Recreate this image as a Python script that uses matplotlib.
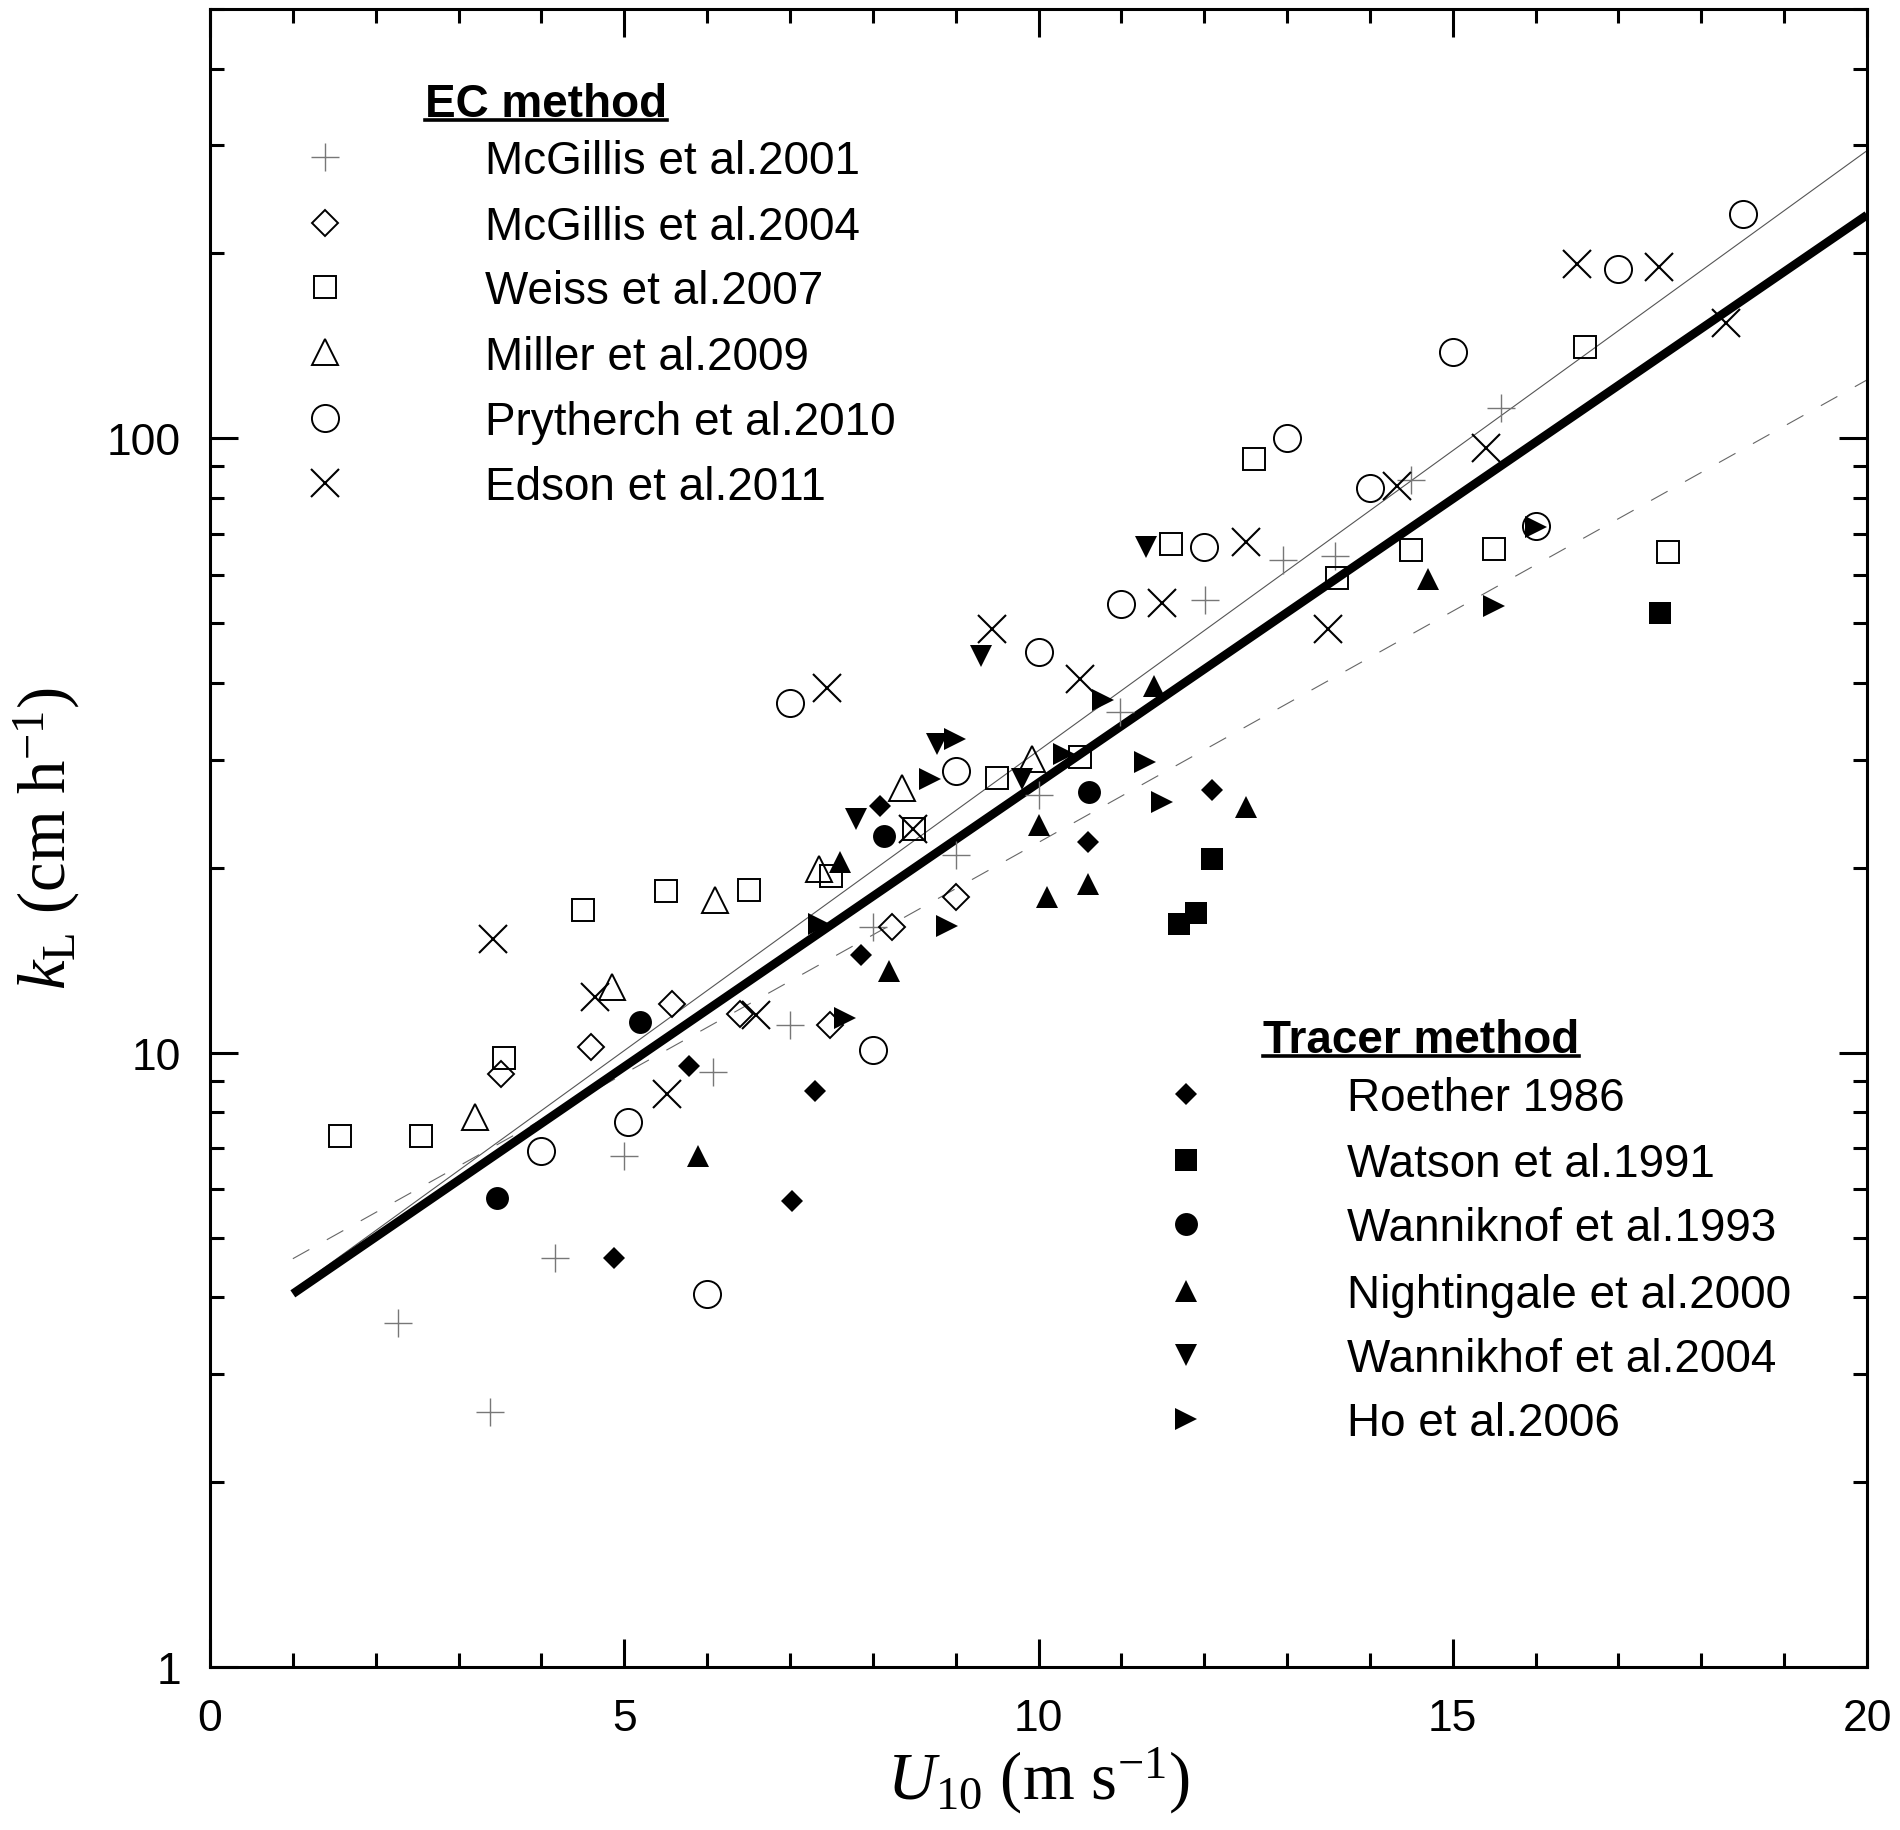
import matplotlib
matplotlib.use("Agg")
import matplotlib.pyplot as plt
from matplotlib.ticker import MultipleLocator, LogLocator, NullFormatter
from matplotlib.lines import Line2D

plt.rcParams['font.family'] = ['Liberation Sans', 'DejaVu Sans']
plt.rcParams['mathtext.fontset'] = 'custom'
plt.rcParams['mathtext.rm'] = 'Liberation Serif'
plt.rcParams['mathtext.it'] = 'Liberation Serif:italic'
plt.rcParams['mathtext.bf'] = 'Liberation Serif:bold'

# ---- EC method data (U10 in m/s, kL in cm/h) ----
mcgillis01_u = [2.27, 3.38, 4.16, 5.0, 6.07, 7.0, 8.0, 9.0, 10.0, 10.98, 12.01, 12.95, 13.58, 14.5, 15.58]
mcgillis01_k = [3.63, 2.6, 4.63, 6.79, 9.3, 11.1, 16.0, 21.0, 26.3, 35.8, 54.5, 63.4, 64.3, 85.6, 112]

mcgillis04_u = [3.51, 4.6, 5.58, 6.4, 7.48, 8.23, 9.0]
mcgillis04_k = [9.23, 10.2, 12.0, 11.56, 11.1, 16.0, 17.9]

weiss_u = [1.57, 2.55, 3.55, 4.5, 5.5, 6.5, 7.5, 8.5, 9.5, 10.5, 11.6, 12.6, 13.6, 14.5, 15.5, 16.6, 17.6]
weiss_k = [7.32, 7.32, 9.8, 17.1, 18.3, 18.4, 19.4, 23.1, 28.0, 30.3, 67.3, 92.5, 59.3, 65.8, 66.1, 141, 65.3]

miller_u = [3.2, 4.85, 6.1, 7.35, 8.35, 9.92]
miller_k = [7.86, 12.8, 17.7, 19.9, 27.0, 30.1]

prytherch_u = [4.0, 5.05, 6.0, 7.0, 8.0, 9.0, 10.0, 11.0, 12.0, 13.0, 14.0, 15.0, 16.0, 17.0, 18.5]
prytherch_k = [6.92, 7.71, 4.05, 37.1, 10.1, 28.7, 44.9, 53.7, 66.6, 100, 83.0, 138, 72.0, 189, 232]

edson_u = [3.42, 4.65, 5.52, 6.59, 7.45, 8.48, 9.44, 10.5, 11.49, 12.5, 13.5, 14.33, 15.4, 16.5, 17.49, 18.3]
edson_k = [15.3, 12.3, 8.57, 11.5, 39.2, 23.1, 49.0, 40.6, 54.0, 67.8, 49.0, 83.7, 96.4, 192, 190, 154]

# ---- Tracer method data ----
roether_u = [4.88, 5.78, 7.03, 7.3, 7.86, 8.09, 10.6, 12.1]
roether_k = [4.63, 9.51, 5.74, 8.66, 14.4, 25.2, 22.0, 26.8]

watson_u = [11.7, 11.9, 12.1, 17.5]
watson_k = [16.2, 16.9, 20.7, 52.0]

wann93_u = [3.46, 5.19, 8.14, 10.61]
wann93_k = [5.8, 11.2, 22.5, 26.6]

nightingale_u = [5.89, 7.6, 8.2, 10.0, 10.1, 10.6, 11.39, 12.5, 14.7]
nightingale_k = [6.79, 20.4, 13.6, 23.5, 17.9, 18.8, 39.5, 25.1, 59.0]

wann04_u = [7.8, 8.77, 9.31, 9.8, 11.3]
wann04_k = [24.0, 31.8, 44.2, 27.9, 66.6]

ho_u = [7.35, 7.66, 8.69, 8.9, 8.99, 10.31, 10.78, 11.29, 11.49, 15.5, 16.0]
ho_k = [16.2, 11.4, 27.9, 16.1, 32.4, 30.6, 37.5, 29.7, 25.6, 53.4, 71.7]

# fitted relations (end points, U10 = 1 and 20)
fit_u = [1, 20]
fit_thick = [4.05, 231]
fit_thin = [4.1, 294]
fit_dash = [4.62, 124.5]

ec_labels = ['McGillis et al.2001', 'McGillis et al.2004', 'Weiss et al.2007',
             'Miller et al.2009', 'Prytherch et al.2010', 'Edson et al.2011']
tracer_labels = ['Roether 1986', 'Watson et al.1991', 'Wanniknof et al.1993',
                 'Nightingale et al.2000', 'Wannikhof et al.2004', 'Ho et al.2006']

ec_data = [(mcgillis01_u, mcgillis01_k), (mcgillis04_u, mcgillis04_k), (weiss_u, weiss_k),
           (miller_u, miller_k), (prytherch_u, prytherch_k), (edson_u, edson_k)]
tracer_data = [(roether_u, roether_k), (watson_u, watson_k), (wann93_u, wann93_k),
               (nightingale_u, nightingale_k), (wann04_u, wann04_k), (ho_u, ho_k)]

ec_styles = [
    dict(marker='+', ms=20, mew=1.0, color='#777777'),
    dict(marker='D', ms=13.5, mew=1.4, mfc='none', mec='black'),
    dict(marker='s', ms=15.5, mew=1.4, mfc='none', mec='black'),
    dict(marker='^', ms=19, mew=1.4, mfc='none', mec='black'),
    dict(marker='o', ms=19.5, mew=1.4, mfc='none', mec='black'),
    dict(marker='x', ms=19.5, mew=1.5, color='black'),
]
tracer_styles = [
    dict(marker='D', ms=11.7, mew=0, color='black'),
    dict(marker='s', ms=16, mew=0, color='black'),
    dict(marker='o', ms=16.5, mew=0, color='black'),
    dict(marker='^', ms=16.5, mew=0, color='black'),
    dict(marker='v', ms=16.5, mew=0, color='black'),
    dict(marker='>', ms=16.5, mew=0, color='black'),
]

fig = plt.figure(figsize=(19, 18.31), dpi=100)
ax = fig.add_axes([210 / 1900, (1831 - 1668) / 1831, 1657 / 1900, 1658 / 1831])

# lines
ax.plot(fit_u, fit_thin, color='#555555', lw=0.8, zorder=2)
ax.plot(fit_u, fit_dash, color='#666666', lw=0.8, dashes=(17, 18), zorder=2)
ax.plot(fit_u, fit_thick, color='black', lw=6.2, solid_capstyle='butt', zorder=2)

for (u, k), st in zip(ec_data + tracer_data, ec_styles + tracer_styles):
    ax.plot(u, k, ls='none', zorder=3, **st)

ax.set_yscale('log')
ax.set_xlim(0, 20)
ax.set_ylim(1, 500)
ax.xaxis.set_major_locator(MultipleLocator(5))
ax.xaxis.set_minor_locator(MultipleLocator(1))
ax.set_yticks([1, 10, 100], labels=['1', '10', '100'])
ax.yaxis.set_minor_locator(LogLocator(base=10, subs=range(2, 10)))
ax.yaxis.set_minor_formatter(NullFormatter())

ax.tick_params(which='both', direction='in', top=True, right=True, width=2.2, labelsize=32)
ax.tick_params(which='major', length=20)
ax.tick_params(which='minor', length=10)
ax.tick_params(axis='x', pad=22)
ax.tick_params(axis='y', pad=21)
for s in ax.spines.values():
    s.set_linewidth(2.2)

ax.set_xlabel(r'$U_{\mathrm{10}}$ (m s$^{\mathrm{-1}}$)', fontsize=48,
              family='Liberation Serif', labelpad=4)
ax.set_ylabel(r'$k_{\mathrm{L}}$ (cm h$^{\mathrm{-1}}$)', fontsize=48,
              family='Liberation Serif', labelpad=18)

# legends drawn by hand
cap = 0.0099
ec_rows = [0.911, 0.8712, 0.8326, 0.793, 0.7533, 0.7141]
tr_rows = [0.3456, 0.306, 0.2672, 0.2268, 0.1882, 0.1496]

ec_title = ax.text(0.1298, 0.9355, 'EC method', transform=ax.transAxes, fontsize=33,
                   fontweight='bold', va='baseline', ha='left')
tr_title = ax.text(0.6355, 0.3709, 'Tracer method', transform=ax.transAxes, fontsize=33,
                   fontweight='bold', va='baseline', ha='left')

for y, lab, st in zip(ec_rows, ec_labels, ec_styles):
    ax.plot([0.0694], [y], transform=ax.transAxes, ls='none', clip_on=False, **st)
    ax.text(0.166, y - cap, lab, transform=ax.transAxes, fontsize=33, va='baseline')
for y, lab, st in zip(tr_rows, tracer_labels, tracer_styles):
    ax.plot([0.589], [y], transform=ax.transAxes, ls='none', clip_on=False, **st)
    ax.text(0.686, y - cap, lab, transform=ax.transAxes, fontsize=33, va='baseline')

fig.canvas.draw()
inv = ax.transAxes.inverted()
for t, uy in [(ec_title, 0.933), (tr_title, 0.3685)]:
    bb = t.get_window_extent()
    x0 = inv.transform((bb.x0, 0))[0]
    x1 = inv.transform((bb.x1, 0))[0]
    ax.add_line(Line2D([x0, x1], [uy, uy], transform=ax.transAxes, color='black', lw=2.6))

fig.savefig('out.png', dpi=100)
